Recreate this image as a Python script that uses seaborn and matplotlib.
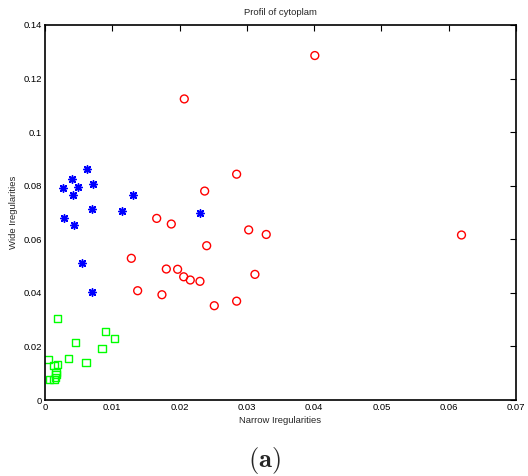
import matplotlib
matplotlib.use("Agg")
import matplotlib.pyplot as plt
import seaborn as sns
import pandas as pd

# Red circles
red_x = [0.0401, 0.0207, 0.02848, 0.02373, 0.0166, 0.01877, 0.03027, 0.03288, 0.0619,
         0.02403, 0.01283, 0.01803, 0.01971, 0.02061, 0.02159, 0.02303, 0.0312,
         0.01377, 0.01738, 0.02848, 0.02516]
red_y = [0.1286, 0.1124, 0.0843, 0.0780, 0.0678, 0.0657, 0.0635, 0.0618, 0.0616,
         0.0576, 0.0529, 0.0489, 0.0488, 0.0460, 0.0448, 0.0443, 0.0469,
         0.0408, 0.0393, 0.0369, 0.0352]

# Blue stars
blue_x = [0.00629, 0.00396, 0.00718, 0.00263, 0.00495, 0.00416, 0.01308, 0.00698,
          0.01144, 0.0230, 0.00282, 0.00436, 0.0055, 0.00698]
blue_y = [0.0861, 0.0825, 0.0805, 0.0791, 0.0794, 0.0765, 0.0766, 0.0714,
          0.0705, 0.0699, 0.0679, 0.0652, 0.0510, 0.0402]

# Green squares
green_x = [0.00189, 0.00902, 0.01036, 0.00456, 0.00847, 0.00045, 0.00347, 0.00609,
           0.00134, 0.00189, 0.00163, 0.00163, 0.00159, 0.00064, 0.00134]
green_y = [0.0303, 0.0257, 0.0229, 0.0214, 0.0193, 0.0152, 0.0154, 0.0139,
           0.0129, 0.0132, 0.0104, 0.0094, 0.0085, 0.0077, 0.0077]

x_ticks = [0, 0.01, 0.02, 0.03, 0.04, 0.05, 0.06, 0.07]
x_labels = ["0", "0.01", "0.02", "0.03", "0.04", "0.05", "0.06", "0.07"]
y_ticks = [0, 0.02, 0.04, 0.06, 0.08, 0.1, 0.12, 0.14]
y_labels = ["0", "0.02", "0.04", "0.06", "0.08", "0.1", "0.12", "0.14"]

sns.set_style("white")
plt.rcParams["font.family"] = ["Liberation Sans", "DejaVu Sans"]
plt.rcParams["mathtext.fontset"] = "cm"

fig = plt.figure(figsize=(5.28, 4.76), dpi=100)
ax = fig.add_axes([45 / 528, 1 - 400 / 476, (516 - 45) / 528, (400 - 25) / 476])

sns.scatterplot(x=red_x, y=red_y, ax=ax, marker="o", s=32, color="#ff0000",
                facecolor="none", edgecolor="#ff0000", linewidth=1.0)
sns.scatterplot(x=green_x, y=green_y, ax=ax, marker="s", s=26, color="#00ff00",
                facecolor="none", edgecolor="#00ff00", linewidth=1.0)
sns.scatterplot(x=blue_x, y=blue_y, ax=ax, marker=(8, 2, 0), s=28, color="#0000ff",
                edgecolor="#0000ff", linewidth=1.1)

ax.set_xlim(0, 0.07)
ax.set_ylim(0, 0.14)
ax.set_xticks(x_ticks)
ax.set_xticklabels(x_labels)
ax.set_yticks(y_ticks)
ax.set_yticklabels(y_labels)
ax.tick_params(direction="in", length=4, width=0.8, labelsize=6.8, top=True, right=True,
               colors="black", pad=2)
for sp in ax.spines.values():
    sp.set_visible(True)
    sp.set_color("black")
    sp.set_linewidth(1.2)

ax.set_title("Profil of cytoplam", fontsize=6.8, pad=7)
ax.set_xlabel("Narrow Iregularities", fontsize=6.8, labelpad=3)
ax.set_ylabel("Wide Iregularities", fontsize=6.8, labelpad=4)

fig.text(0.5, 1 - 461 / 476, r"$\mathbf{(a)}$", ha="center", va="center", fontsize=19)

fig.savefig("out.png", dpi=100)
